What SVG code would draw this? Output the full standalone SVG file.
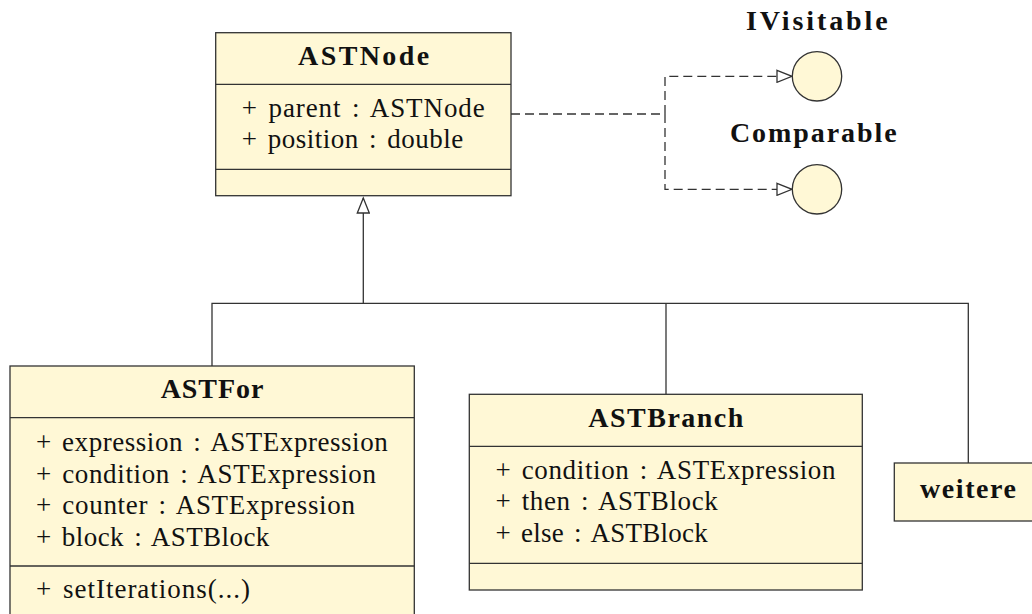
<svg xmlns="http://www.w3.org/2000/svg" width="1032" height="614" viewBox="0 0 1032 614">
<style>
  .box { fill: #fff8d6; stroke: #333; stroke-width: 1.3; }
  .sep { stroke: #333; stroke-width: 1.3; fill: none; }
  text { font-family: 'Liberation Serif', 'DejaVu Serif', serif; fill: #111; }
  .title { font-weight: bold; font-size: 28px; text-anchor: middle; }
  .attr { font-size: 27px; word-spacing: 3px; }
  .gen { stroke: #333; stroke-width: 1.3; fill: none; }
  .real { stroke: #333; stroke-width: 1.3; fill: none; stroke-dasharray: 9 5; }
</style>
<defs>
  <marker id="hollow" markerUnits="userSpaceOnUse" markerWidth="18" markerHeight="14" viewBox="0 0 18 14" refX="16" refY="7" orient="auto">
    <path d="M1,1 L16,7 L1,13 Z" fill="#fff" stroke="#333" stroke-width="1.3"/>
  </marker>
</defs>
<rect width="1032" height="614" fill="#fff"/>

<g id="connectors">
  <path class="gen" d="M212,366 V303.3 H968.3 V463"/>
  <path class="gen" d="M666,303.3 V394.3"/>
  <path class="gen" d="M363.3,303.3 V198" marker-end="url(#hollow)"/>
  <path class="real" d="M511,114 H665 V76.3 H792" marker-end="url(#hollow)"/>
  <path class="real" d="M665,114 V189.3 H792" marker-end="url(#hollow)"/>
</g>

<g id="ASTNode">
  <rect class="box" x="215.7" y="32.7" width="295.3" height="163"/>
  <line class="sep" x1="215.7" y1="84.3" x2="511" y2="84.3"/>
  <line class="sep" x1="215.7" y1="169.3" x2="511" y2="169.3"/>
  <text class="title" x="363.6" y="65" textLength="131" lengthAdjust="spacing">ASTNode</text>
  <text class="attr" x="241.7" y="116.7" textLength="243" lengthAdjust="spacing">+ parent : ASTNode</text>
  <text class="attr" x="241.7" y="148.3" textLength="221.6" lengthAdjust="spacing">+ position : double</text>
</g>

<g id="IVisitable">
  <circle class="box" cx="817" cy="76.3" r="24.7"/>
  <text class="title" x="816.8" y="30" textLength="141.7" lengthAdjust="spacing">IVisitable</text>
</g>

<g id="Comparable">
  <circle class="box" cx="817" cy="189.3" r="24.7"/>
  <text class="title" x="813.3" y="141.7" textLength="166.7" lengthAdjust="spacing">Comparable</text>
</g>

<g id="ASTFor">
  <rect class="box" x="10" y="366" width="404.3" height="262"/>
  <line class="sep" x1="10" y1="417.7" x2="414.3" y2="417.7"/>
  <line class="sep" x1="10" y1="566" x2="414.3" y2="566"/>
  <text class="title" x="212" y="398.3" textLength="102.7" lengthAdjust="spacing">ASTFor</text>
  <text class="attr" x="36" y="451" textLength="351.7" lengthAdjust="spacing">+ expression : ASTExpression</text>
  <text class="attr" x="36" y="482.7" textLength="340" lengthAdjust="spacing">+ condition : ASTExpression</text>
  <text class="attr" x="36" y="514.3" textLength="319" lengthAdjust="spacing">+ counter : ASTExpression</text>
  <text class="attr" x="36" y="546" textLength="233.3" lengthAdjust="spacing">+ block : ASTBlock</text>
  <text class="attr" x="36" y="598.3" textLength="214" lengthAdjust="spacing">+ setIterations(...)</text>
</g>

<g id="ASTBranch">
  <rect class="box" x="469.3" y="394.3" width="393" height="195.7"/>
  <line class="sep" x1="469.3" y1="446.3" x2="862.3" y2="446.3"/>
  <line class="sep" x1="469.3" y1="563.3" x2="862.3" y2="563.3"/>
  <text class="title" x="665.8" y="426.7" textLength="155" lengthAdjust="spacing">ASTBranch</text>
  <text class="attr" x="495.5" y="479" textLength="340" lengthAdjust="spacing">+ condition : ASTExpression</text>
  <text class="attr" x="495.5" y="510.3" textLength="222.3" lengthAdjust="spacing">+ then : ASTBlock</text>
  <text class="attr" x="495.5" y="542" textLength="212.3" lengthAdjust="spacing">+ else : ASTBlock</text>
</g>

<g id="weitere">
  <rect class="box" x="894.3" y="463" width="148" height="58"/>
  <text class="title" x="968" y="497.7" textLength="96" lengthAdjust="spacing">weitere</text>
</g>
</svg>
